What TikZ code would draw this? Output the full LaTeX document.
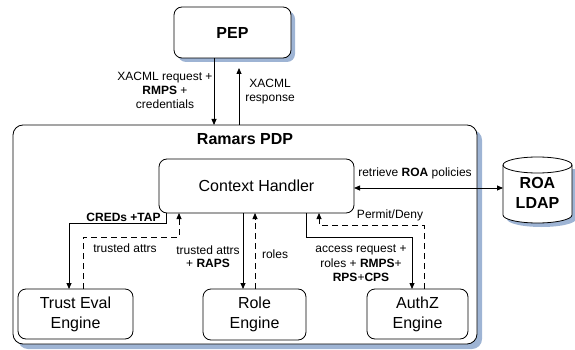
\documentclass[tikz,border=0pt]{standalone}
\usepackage{fontspec}
\setmainfont{Liberation Sans}
\usetikzlibrary{arrows.meta,calc}
\definecolor{shd}{RGB}{158,180,212}
\begin{document}
\begin{tikzpicture}[x=1pt,y=-1pt,
  every node/.style={inner sep=0pt, outer sep=0pt},
  blk/.style={draw, line width=0.8pt, rounded corners=8pt, fill=white, align=center},
  bigtxt/.style={font=\fontsize{16}{20}\selectfont},
  bigbold/.style={font=\fontsize{16}{20}\selectfont\bfseries},
  lbl/.style={font=\fontsize{12}{14}\selectfont, align=center},
  conn/.style={line width=0.8pt, -{Triangle[length=6pt,width=5pt]}},
  dconn/.style={conn, dash pattern=on 6pt off 4pt},
]
\useasboundingbox (0,0) rectangle (575,350);

% PEP
\fill[shd, rounded corners=8pt] (178,11) rectangle (295,62);
\node[blk, bigbold, minimum width=117pt, minimum height=51pt] (pep) at (232.5,32.5) {PEP};

% PDP container
\fill[shd, rounded corners=10pt] (18,130) rectangle (482,349);
\node[blk, rounded corners=10pt, minimum width=464pt, minimum height=219pt] (pdp) at (245,234.5) {};
\node[bigbold] (pdptitle) at (245,139) {Ramars PDP};

% Context handler
\node[blk, bigtxt, minimum width=195pt, minimum height=54pt] (ch) at (256.5,186) {Context Handler};

% ROA LDAP cylinder
\fill[shd] (507,169) -- (507,219) arc[start angle=180,end angle=360,x radius=34.5pt,y radius=8pt] -- (576,169) -- cycle;
\draw[line width=0.8pt, fill=white] (503,165) -- (503,215) arc[start angle=180,end angle=360,x radius=34.5pt,y radius=8pt] -- (572,165) arc[start angle=0,end angle=180,x radius=34.5pt,y radius=8pt] -- cycle;
\draw[line width=0.8pt] (503,165) arc[start angle=180,end angle=360,x radius=34.5pt,y radius=8pt];
\node[bigbold, align=center, minimum width=69pt, minimum height=40pt] (ldap) at (537.5,193) {ROA\\LDAP};
\coordinate (ldapw) at (503,188);

% Engines
\node[blk, bigtxt, minimum width=115pt, minimum height=50pt] (te) at (75.5,314) {Trust Eval\\Engine};
\node[blk, bigtxt, minimum width=103pt, minimum height=51pt] (role) at (254.5,314.5) {Role\\Engine};
\node[blk, bigtxt, minimum width=101pt, minimum height=50pt] (az) at (417.5,314) {AuthZ\\Engine};

% PEP <-> PDP
\draw[conn] ([xshift=-18.5pt]pep.south) -- ([xshift=-18.5pt]pep.south |- pdp.north);
\draw[conn] ([xshift=6.5pt]pep.south |- pdp.north) -- ([xshift=6.5pt,yshift=-10pt]pep.south);
\node[lbl] (l1) at (165,90) {XACML request +\\\textbf{RMPS} +\\credentials};
\node[lbl] (l2) at (270,92) {XACML\\response};

% CH <-> LDAP
\draw[line width=0.8pt, {Triangle[length=6pt,width=5pt]}-{Triangle[length=6pt,width=5pt]}] ([yshift=-2pt]ch.east) -- (ldapw);
\node[lbl] (l3) at (415,173) {retrieve \textbf{ROA} policies};

% CH <-> Trust Eval
\draw[conn] ([xshift=-90.5pt]ch.south) -- ++(0,10) -| ([xshift=-6.5pt]te.north);
\node[lbl, font=\fontsize{12}{14}\selectfont\bfseries] (l4) at (123.5,217) {CREDs +TAP};
\draw[dconn] ([xshift=7.5pt]te.north) -- ++(0,-52) -| ([xshift=-77.5pt]ch.south);
\node[lbl] (l5) at (125,248) {trusted attrs};

% CH <-> Role
\draw[conn] ([xshift=-13.5pt]ch.south) -- ([xshift=-13.5pt]ch.south |- role.north);
\node[lbl, font=\fontsize{12}{13}\selectfont] (l6) at (208,256.5) {trusted attrs\\+ \textbf{RAPS}};
\draw[dconn] ([xshift=0.5pt]role.north) -- ([xshift=0.5pt]role.north |- ch.south);
\node[lbl, anchor=west] (l7) at (262,254) {roles};

% CH <-> AuthZ
\draw[conn] ([xshift=49.5pt]ch.south) -- ++(0,24) -| ([xshift=-5.5pt]az.north);
\node[lbl, font=\fontsize{12}{14.5}\selectfont] (l8) at (361,263.5) {access request +\\roles + \textbf{RMPS}+\\\textbf{RPS}+\textbf{CPS}};
\draw[dconn] ([xshift=6.5pt]az.north) -- ++(0,-64) -| ([xshift=62.5pt]ch.south);
\node[lbl] (l9) at (390,215) {Permit/Deny};
\end{tikzpicture}
\end{document}
